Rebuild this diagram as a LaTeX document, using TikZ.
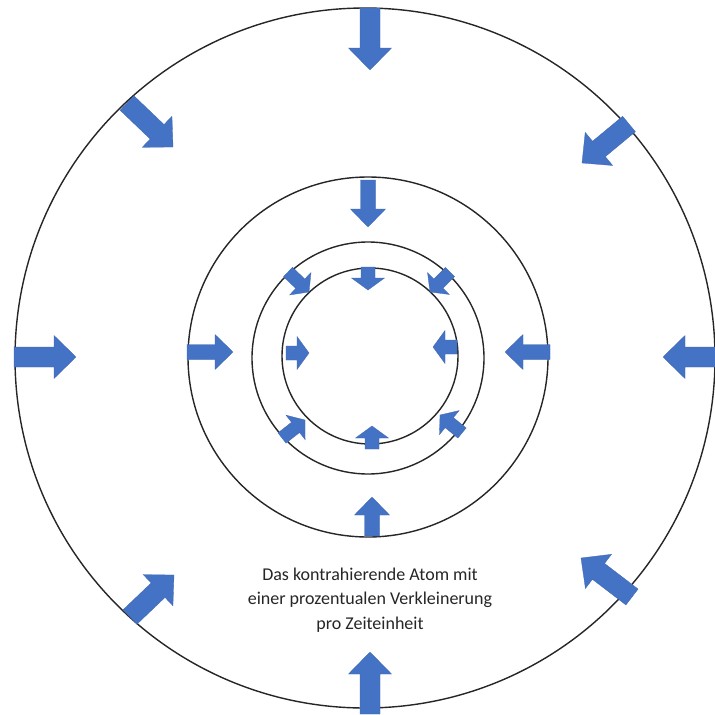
\documentclass[tikz,border=0pt]{standalone}
\usepackage{fontspec}
\setmainfont{Carlito}
\usetikzlibrary{calc}
\definecolor{arrowblue}{HTML}{4472C4}
\tikzset{
  ring/.style={draw=black!85, line width=1.4pt},
  blk/.style={fill=arrowblue, draw=arrowblue!90!black, line width=0.3pt, line join=miter},
  caption/.style={align=center, font=\fontsize{18}{24.5}\selectfont, text=black!85}
}
% #1 name, #2 tail, #3 tip, #4 half shaft, #5 half head, #6 head length
\newcommand{\blockarr}[6]{%
  \coordinate (#1t) at #2;
  \coordinate (#1h) at #3;
  \coordinate (#1b) at ($(#1h)!#6!(#1t)$);
  \path[blk] ($(#1t)!#4!90:(#1h)$) -- ($(#1b)!#4!90:(#1h)$) -- ($(#1b)!#5!90:(#1h)$)
     -- (#1h) -- ($(#1b)!#5!-90:(#1h)$) -- ($(#1b)!#4!-90:(#1h)$) -- ($(#1t)!#4!-90:(#1h)$) -- cycle;
}
\begin{document}
\begin{tikzpicture}[x=1pt,y=-1pt]
\useasboundingbox (0,0) rectangle (715,715);
\fill[white] (0,0) rectangle (715,715);
% circles
\node[ring, circle, minimum size=700pt, inner sep=0pt] (outer) at (365,358) {};
\node[ring, circle, minimum size=360pt, inner sep=0pt] (middle) at (368,357) {};
\node[ring, circle, minimum size=232pt, inner sep=0pt] (second) at (368,358) {};
\node[ring, circle, minimum size=176pt, inner sep=0pt] (inner) at (370,356) {};
% outer arrows
\blockarr{o1}{(370,8)}{(370,70)}{10pt}{21.5pt}{22pt}
\blockarr{o2}{(370,714)}{(370,652)}{10pt}{21.5pt}{22pt}
\blockarr{o3}{(14,357)}{(76,357)}{10pt}{21.5pt}{22pt}
\blockarr{o4}{(725,357)}{(663,357)}{10pt}{21.5pt}{22pt}
\blockarr{o5}{(127,103)}{(173,147)}{10pt}{21.5pt}{22pt}
\blockarr{o6}{(629,124)}{(582,163)}{10pt}{21.5pt}{22pt}
\blockarr{o7}{(130,617)}{(174,575)}{10pt}{21.5pt}{22pt}
\blockarr{o8}{(632,597)}{(581,558)}{10pt}{21.5pt}{22pt}
% middle ring arrows
\blockarr{m1}{(368,180)}{(368,227)}{7.5pt}{17.5pt}{18pt}
\blockarr{m2}{(372,536)}{(372,497)}{7.5pt}{17.5pt}{18pt}
\blockarr{m3}{(187,352)}{(233,352)}{7.5pt}{17.5pt}{18pt}
\blockarr{m4}{(550,352)}{(505,352)}{7.5pt}{17.5pt}{18pt}
% inner arrows
\blockarr{i1}{(368,267)}{(368,290)}{7pt}{16.5pt}{12pt}
\blockarr{i2}{(372,449)}{(372,426)}{7pt}{16.5pt}{12pt}
\blockarr{i3}{(286,353)}{(309,353)}{7pt}{16.5pt}{12pt}
\blockarr{i4}{(457,347)}{(433,347)}{7pt}{16.5pt}{12pt}
\blockarr{i5}{(288,272)}{(309,292)}{6.5pt}{15.5pt}{12pt}
\blockarr{i6}{(450,272)}{(430,292)}{6.5pt}{15.5pt}{12pt}
\blockarr{i7}{(282,438)}{(305,420)}{6.5pt}{15.5pt}{12pt}
\blockarr{i8}{(462,433)}{(440,415)}{6.5pt}{15.5pt}{12pt}
% caption
\node[caption] (cap) at (370,600) {Das kontrahierende Atom mit\\einer prozentualen Verkleinerung\\pro Zeiteinheit};
\end{tikzpicture}
\end{document}
